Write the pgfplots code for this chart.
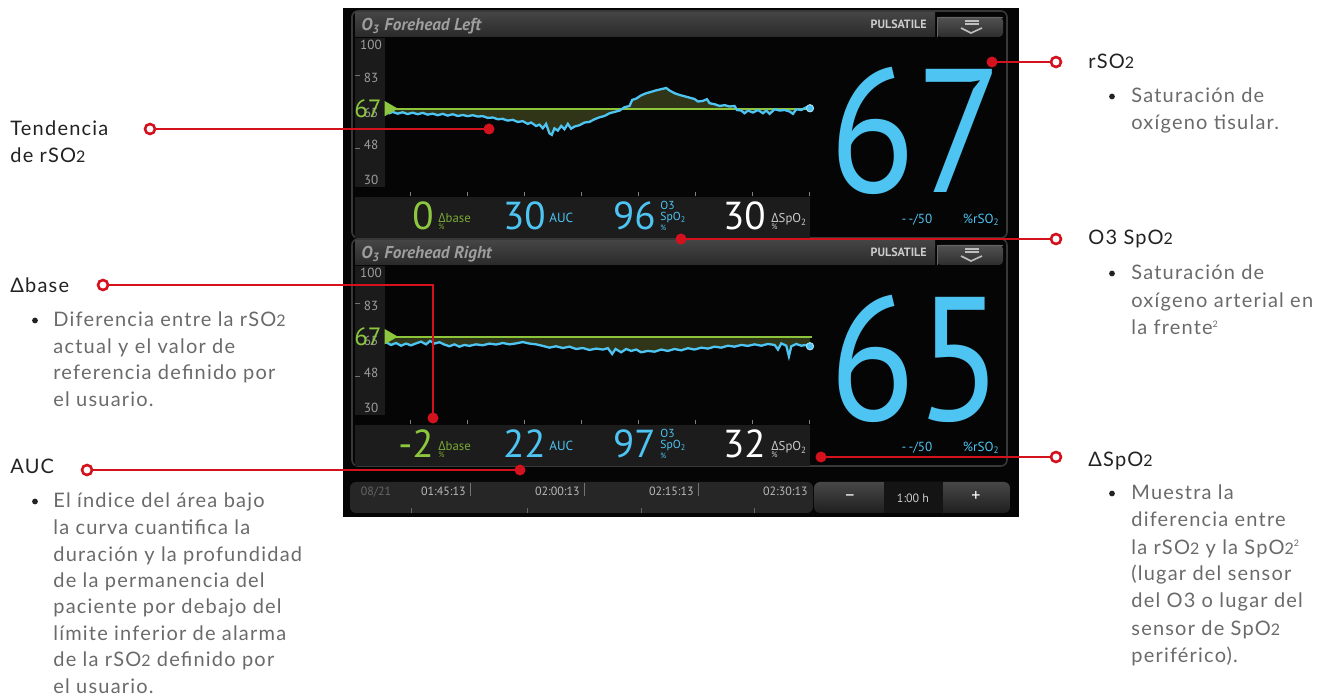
\documentclass[border=0pt]{standalone}
\usepackage{fontspec}
\setmainfont{Lato}
\newfontfamily\ann[LetterSpace=6]{Lato}
\newfontfamily\mon{PT Sans}
\newfontfamily\grk{Open Sans}
\usepackage{graphicx}
\usepackage{pgfplots}
\usepackage{pgfplotstable}
\pgfplotsset{compat=1.18}

\definecolor{ared}{HTML}{D3121E}
\definecolor{mblue}{HTML}{4EC4F2}
\definecolor{mgreen}{HTML}{8DC63F}
\definecolor{bgreen}{HTML}{8CC43A}
\definecolor{mfill}{HTML}{2F3516}
\definecolor{hdrtop}{HTML}{444444}
\definecolor{hdrbot}{HTML}{2A2A2A}
\definecolor{ycol}{HTML}{1B1B1B}
\definecolor{vbar}{HTML}{1C1C1C}
\definecolor{tgray}{HTML}{9E9E9E}
\definecolor{anngray}{HTML}{6A6A6A}
\definecolor{anntext}{HTML}{222222}

\pgfplotstableread{
m v
4.25 65.5
4.69 64.6
5.13 65.3
5.79 64.4
6.44 65.1
7.10 64.2
7.76 64.9
8.42 64.1
9.08 64.8
9.73 63.9
10.39 64.4
11.05 63.6
11.71 64.3
12.37 63.4
13.02 64.1
13.68 63.2
14.34 63.7
15.00 63.1
15.66 63.6
16.31 62.9
16.97 63.1
17.63 62.2
18.29 62.4
18.95 61.5
19.60 61.7
20.26 60.8
20.92 61.2
21.58 60.1
22.23 60.5
22.89 59.1
23.33 59.8
23.99 58.0
24.43 58.7
24.87 56.8
25.30 59.1
25.74 54.2
26.05 53.4
26.40 56.8
26.84 55.6
27.28 58.0
27.72 56.3
28.16 59.1
28.59 56.6
29.03 57.7
29.69 58.4
30.35 59.8
31.00 60.1
31.66 61.5
32.32 62.5
32.98 63.2
33.64 64.6
34.30 65.3
34.95 66.0
35.61 67.7
36.27 68.4
36.62 71.5
37.15 72.2
37.80 73.9
38.46 75.0
39.12 75.7
39.78 76.5
40.44 77.1
41.09 77.7
41.53 76.4
42.19 75.0
42.85 74.1
43.51 73.4
44.16 72.7
44.82 72.0
45.26 70.7
45.92 71.0
46.45 71.9
46.80 69.8
47.45 69.3
48.11 68.4
48.77 68.8
49.43 68.1
50.08 68.4
50.39 66.3
50.96 66.0
51.40 64.6
51.84 66.0
52.50 65.0
53.16 66.3
53.81 64.6
54.25 66.0
54.69 64.3
55.35 66.7
56.01 66.0
56.66 66.3
57.32 65.5
57.76 64.3
58.20 66.7
58.86 66.3
59.51 67.7
60.00 67.2
}\toptrace

\pgfplotstableread{
m v
4.25 64.1
4.91 62.7
5.57 63.7
6.23 62.3
6.88 63.4
7.54 62.5
8.20 63.5
8.86 64.4
9.52 63.0
10.04 64.8
10.61 63.4
11.27 64.1
11.93 62.9
12.59 62.0
13.24 63.0
13.90 61.8
14.56 62.7
15.22 62.2
16.09 63.0
16.97 62.5
17.85 63.4
18.73 62.9
19.60 63.7
20.48 63.0
21.36 63.5
22.23 64.2
23.11 63.4
23.99 63.0
24.87 62.2
25.74 61.3
26.62 62.0
27.50 61.1
28.37 61.8
29.25 60.6
30.13 61.1
31.00 60.1
31.88 60.8
32.76 60.3
33.42 61.0
33.99 58.0
34.43 60.6
35.17 58.9
35.83 60.6
36.49 59.6
37.15 60.3
37.80 58.9
38.68 59.6
39.56 59.2
40.44 60.3
41.31 59.6
42.19 60.6
43.07 59.9
43.94 61.0
44.82 60.3
45.70 61.3
46.58 60.8
47.45 61.8
48.33 61.3
49.21 62.3
50.08 61.8
50.96 62.7
51.84 62.2
52.72 63.0
53.60 62.3
54.47 63.2
55.35 62.7
55.79 60.3
56.23 63.5
56.88 62.3
57.23 56.8
57.54 62.0
58.20 63.2
58.86 62.3
59.51 62.7
60.00 62.0
}\bottrace

\newcommand\two{{\fontsize{8pt}{8pt}\selectfont 2}}
\newcommand\annfont{\ann\fontsize{10pt}{12pt}\selectfont}

% #1 = at point (in pt, picture coords), #2 = table, #3 = last value
\newcommand\trendaxis[3]{%
\begin{axis}[at={#1}, anchor=south west, scale only axis,
  width=212pt, height=75.5pt, xmin=4.25, xmax=60, ymin=21.7, ymax=100,
  clip=false, axis x line*=bottom, axis y line*=left,
  axis line style={draw=none},
  xtick={7.5,15,22.5,30,37.5,45,52.5,60}, xticklabels={},
  tick align=inside, major tick length=2pt,
  xtick style={draw=black!50!white, line width=0.5pt},
  ytick={30,48,65,83,100}, ytick style={draw=none},
  /pgf/number format/assume math mode=true,
  yticklabel style={anchor=center, xshift=-7.5pt, text=tgray,
    font=\mon\fontsize{6.6pt}{7pt}\selectfont}]
% shaded area between the trend and the baseline (67)
\addplot[fill=mfill, draw=none] table {#2} -- (axis cs:60,67) -- (axis cs:4.25,67) -- cycle;
\addplot[bgreen, line width=1pt] coordinates {(4.25,67) (60.3,67)};
\addplot[mblue, line width=1.15pt] table {#2};
\addplot[only marks, mark=*, mark size=1.8pt, mark options={draw=mblue!50!white, fill=mblue, line width=0.5pt}] coordinates {(60,#3)};
\addplot[only marks, mark=triangle*, mark size=4pt, mark options={rotate=-90, fill=mgreen, draw=mgreen}] coordinates {(4.65,67)};
\node[anchor=east, inner sep=0, xshift=-2pt, text=mgreen, font=\mon\fontsize{12.5pt}{12.5pt}\selectfont] at (axis cs:4.25,67) {67};
\end{axis}}

% panel chrome: #1 = title, #2 = delta base, #3 = AUC, #4 = SpO2, #5 = dSpO2, #6 = big rSO2
\newcommand\panel[6]{%
\draw[draw=black!78!white, line width=0.8pt, rounded corners=3] (352,11) rectangle (1007,238);
\shade[top color=hdrtop, bottom color=hdrbot] (355,13) rectangle (935,37);
\shade[top color=black!68!white, bottom color=black!82!white, rounded corners=2] (937,17) rectangle (1003,37);
\draw[black!60!white, line width=0.4pt] (937,37) -- (937,17) -- (1003,17);
\draw[white!75!black, line width=0.7pt] (965,21) -- (979,21) (965,24) -- (979,24);
\draw[white!75!black, line width=0.8pt] (961,28) -- (971,33) -- (982,28);
\node[anchor=base west, inner sep=0, text=tgray, font=\mon\bfseries\itshape\fontsize{8.6pt}{9pt}\selectfont] at (361,31) {O\textsubscript{3} Forehead #1};
\node[anchor=base east, inner sep=0, text=white!80!black, font=\mon\bfseries\fontsize{6pt}{6pt}\selectfont] at (927,29) {PULSATILE};
\fill[ycol] (355,38) rectangle (385,187);
\draw[black!55!white, line width=0.5pt] (355,76) -- (360,76) (355,149) -- (360,149);
\fill[vbar] (355,197) rectangle (810,238);
\node[anchor=base east, inner sep=0, text=mgreen, font=\mon\fontsize{19.5pt}{20pt}\selectfont] at (434,230) {#2};
\node[anchor=base west, inner sep=0, text=mgreen!85!black, font=\mon\fontsize{6.4pt}{7pt}\selectfont] at (438,223) {{\grk Δ}base};
\node[anchor=base west, inner sep=0, text=mgreen!85!black, font=\mon\fontsize{4pt}{4pt}\selectfont] at (438,230) {\%};
\node[anchor=base east, inner sep=0, text=mblue, font=\mon\fontsize{19.5pt}{20pt}\selectfont] at (546,230) {#3};
\node[anchor=base west, inner sep=0, text=mblue, font=\mon\fontsize{6.6pt}{7pt}\selectfont] at (549,223) {AUC};
\node[anchor=base east, inner sep=0, text=mblue, font=\mon\fontsize{19.5pt}{20pt}\selectfont] at (656,230) {#4};
\node[anchor=base west, inner sep=0, text=mblue, font=\mon\fontsize{5.8pt}{6pt}\selectfont] at (660,210) {O3};
\node[anchor=base west, inner sep=0, text=mblue, font=\mon\fontsize{5.8pt}{6pt}\selectfont] at (660,221) {SpO\textsubscript{2}};
\node[anchor=base west, inner sep=0, text=mblue, font=\mon\fontsize{3.8pt}{4pt}\selectfont] at (660,230.5) {\%};
\node[anchor=base east, inner sep=0, text=white, font=\mon\fontsize{19.5pt}{20pt}\selectfont] at (766,230) {#5};
\node[anchor=base west, inner sep=0, text=white!80!black, font=\mon\fontsize{6.4pt}{7pt}\selectfont] at (771,223) {{\grk Δ}SpO\textsubscript{2}};
\node[anchor=base west, inner sep=0, text=white!80!black, font=\mon\fontsize{4pt}{4pt}\selectfont] at (771,230) {\%};
\node[anchor=base, inner sep=0, text=mblue, font=\mon\fontsize{88pt}{88pt}\selectfont] at (916,193) {\scalebox{0.9}[1]{#6}};
\node[anchor=base, inner sep=0, text=mblue, font=\mon\fontsize{6.6pt}{7pt}\selectfont] at (917,224) {-\,-/50};
\node[anchor=base east, inner sep=0, text=mblue, font=\mon\fontsize{6.6pt}{7pt}\selectfont] at (1000,224) {\%rSO\textsubscript{2}};
}

\newcommand\bul[2]{\fill[anntext] (#1,#2-6.5) circle (2.9);}
\newcommand\rdot[2]{\fill[ared] (#1,#2) circle (5.5);}
\newcommand\ocirc[2]{\draw[ared, line width=1.3pt, fill=white] (#1,#2) circle (5);}

\begin{document}
\begin{tikzpicture}
\begin{scope}[x=0.5pt,y=-0.5pt]
\path[use as bounding box] (0,0) rectangle (1330,700);
% monitor background
\fill[black!98!white] (343,8) rectangle (1019,517);
\panel{Left}{0}{30}{96}{30}{67}
\begin{scope}[shift={(0,228)}]
\panel{Right}{-2}{22}{97}{32}{65}
\end{scope}
% time bar
\fill[black!85!white, rounded corners=3] (350,482) rectangle (813,513);
\foreach \sx in {470,584,698} \draw[black!55!white, line width=0.5pt] (\sx,483) -- (\sx,496);
\foreach \sx in {411,527,641,754} \draw[black!60!white, line width=0.5pt] (\sx,508) -- (\sx,513);
\node[anchor=base, inner sep=0, text=black!60!white, font=\mon\fontsize{6pt}{6pt}\selectfont] at (376,495) {08/21};
\foreach \sx/\tl in {466/01:45:13,580/02:00:13,694/02:15:13,808/02:30:13}
  \node[anchor=base east, inner sep=0, text=white!72!black, font=\mon\fontsize{6pt}{6pt}\selectfont] at (\sx,495) {\tl};
\shade[top color=black!72!white, bottom color=black!88!white, rounded corners=3] (814,482) rectangle (1010,513);
\fill[black!92!white] (884,482) rectangle (943,513);
\node[text=white, inner sep=0, font=\mon\fontsize{9pt}{9pt}\selectfont] at (850,498) {−};
\node[text=white, inner sep=0, font=\mon\fontsize{9pt}{9pt}\selectfont] at (976,497) {+};
\node[text=white!80!black, inner sep=0, font=\mon\fontsize{6pt}{6pt}\selectfont] at (913,498) {1:00 h};
\end{scope}
% trends (placed in pt: px*0.5, y negative)
\trendaxis{(193pt,-98pt)}{\toptrace}{67.2}
\trendaxis{(193pt,-212pt)}{\bottrace}{62.0}

\begin{scope}[x=0.5pt,y=-0.5pt]
% ---- annotations ----
\begin{scope}[every node/.style={inner sep=0, anchor=base west}]
\node[text=anntext, font=\annfont] at (10,136) {Tendencia};
\node[text=anntext, font=\annfont] at (10,163) {de rSO\two};
\node[text=anntext, font=\annfont] at (10,293) {Δbase};
\bul{35}{327}
\foreach \t [count=\i from 0] in {{Diferencia entre la rSO\two},{actual y el valor de},{referencia definido por},{el usuario.}}
  \node[text=anngray, font=\annfont] at (53,327+\i*26.4) {\t};
\node[text=anntext, font=\annfont] at (10,474) {AUC};
\bul{35}{508}
\foreach \t [count=\i from 0] in {{El índice del área bajo},{la curva cuantifica la},{duración y la profundidad},{de la permanencia del},{paciente por debajo del},{límite inferior de alarma},{de la rSO\two\ definido por},{el usuario.}}
  \node[text=anngray, font=\annfont] at (53,508+\i*26.5) {\t};
\node[text=anntext, font=\annfont] at (1088,69) {rSO\two};
\bul{1112}{103}
\foreach \t [count=\i from 0] in {{Saturación de},{oxígeno tisular.}}
  \node[text=anngray, font=\annfont] at (1131,103+\i*26.7) {\t};
\node[text=anntext, font=\annfont] at (1088,245) {O3 SpO\two};
\bul{1112}{280}
\foreach \t [count=\i from 0] in {{Saturación de},{oxígeno arterial en},{la frente\textsuperscript{\fontsize{4.5pt}{5pt}\selectfont 2}}}
  \node[text=anngray, font=\annfont] at (1131,280+\i*27.5) {\t};
\node[text=anntext, font=\annfont] at (1088,467) {ΔSpO\two};
\bul{1112}{500}
\foreach \t [count=\i from 0] in {{Muestra la},{diferencia entre},{la rSO\two\ y la SpO\two\textsuperscript{\fontsize{4.5pt}{5pt}\selectfont 2}},{(lugar del sensor},{del O3 o lugar del},{sensor de SpO\two},{periférico).}}
  \node[text=anngray, font=\annfont] at (1131,500+\i*27.0) {\t};
\end{scope}
% red callouts
\draw[ared, line width=1.1pt] (150,129) -- (489,129);
\rdot{489}{129}\ocirc{150}{129}
\draw[ared, line width=1.1pt] (103,285) -- (433,285) -- (433,418);
\rdot{433}{418}\ocirc{103}{285}
\draw[ared, line width=1.1pt] (87,470) -- (520,470);
\rdot{520}{470}\ocirc{87}{470}
\draw[ared, line width=1.1pt] (992,62) -- (1056,62);
\rdot{992}{62}\ocirc{1056}{62}
\draw[ared, line width=1.1pt] (681,239) -- (1056,239);
\rdot{681}{239}\ocirc{1056}{239}
\draw[ared, line width=1.1pt] (821,457) -- (1056,457);
\rdot{821}{457}\ocirc{1056}{457}
\end{scope}
\end{tikzpicture}
\end{document}
